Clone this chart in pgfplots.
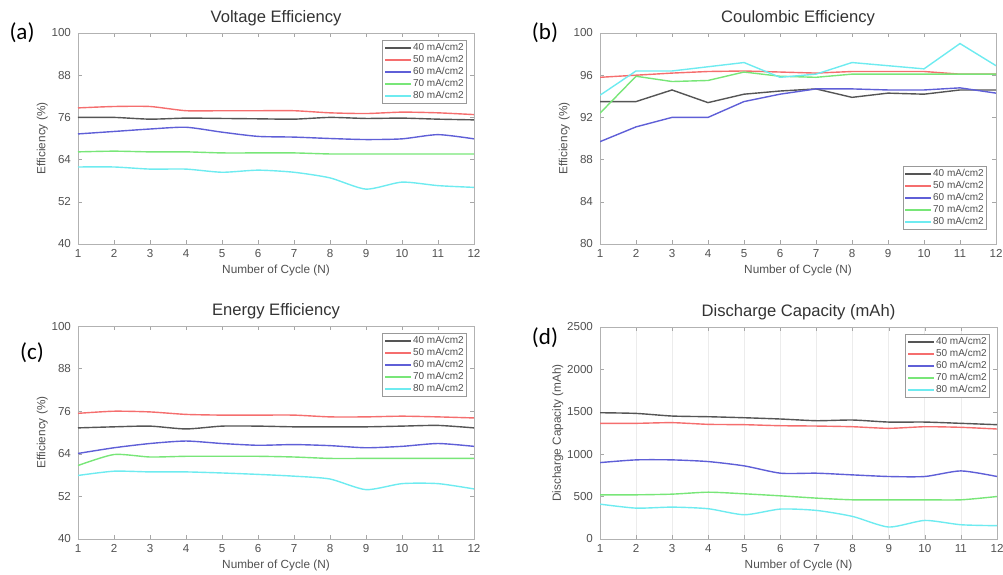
\documentclass[border=0pt]{standalone}
\usepackage{pgfplots}
\pgfplotsset{compat=1.18}
\usepackage{fontspec}
\setmainfont{Liberation Sans}
\newfontfamily\tagfont{Carlito}
\definecolor{cK}{RGB}{85,85,85}
\definecolor{cR}{RGB}{245,110,110}
\definecolor{cB}{RGB}{95,95,215}
\definecolor{cG}{RGB}{120,230,120}
\definecolor{cC}{RGB}{110,235,240}
\definecolor{txt}{RGB}{80,80,80}
\pgfplotsset{
  panel/.style={
    anchor=south west, scale only axis,
    width=198pt, height=105.5pt,
    xmin=1, xmax=12, xtick={1,...,12},
    axis line style={gray!60}, tick style={gray!70},
    tick align=inside, major tick length=2pt,
    xtick pos=both, ytick pos=both,
    /pgf/number format/assume math mode=true,
    ticklabel style={font=\fontsize{5.8}{6}\selectfont, text=txt},
    xticklabel style={yshift=1pt},
    label style={font=\fontsize{5.9}{6}\selectfont, text=txt},
    xlabel={Number of Cycle (N)},
    xlabel style={yshift=3pt},
    ylabel style={yshift=-5pt},
    every axis title shift=0pt,
    title style={font=\fontsize{8.3}{9}\selectfont, text=black!80},
    legend cell align=left,
    legend style={font=\fontsize{5}{6}\selectfont, text=txt, draw=gray!80,
      inner sep=0.8pt, row sep=0pt,
      nodes={inner sep=0.6pt, text height=3.8pt, text depth=1pt}},
    legend image code/.code={\draw[##1] plot coordinates {(0pt,0pt) (6.5pt,0pt) (13pt,0pt)};},
    every axis plot/.append style={line width=0.7pt},
  },
  legNE/.style={legend style={at={(0.982,0.967)}, anchor=north east}},
  legSE/.style={legend style={at={(0.977,0.066)}, anchor=south east}},
}
\begin{document}
\begin{tikzpicture}

% (a) Voltage efficiency
\begin{axis}[panel, legNE, at={(39pt,165pt)},
  ymin=40, ymax=100, ytick={40,52,...,100},
  title={Voltage Efficiency}, ylabel={Efficiency (\%)}]
\addplot[cK, smooth, tension=0.4] coordinates {(1,76)(2,76)(3,75.5)(4,75.8)(5,75.7)(6,75.6)(7,75.5)(8,76)(9,75.7)(10,75.8)(11,75.5)(12,75.3)};
\addplot[cR, smooth, tension=0.4] coordinates {(1,78.7)(2,79.1)(3,79.1)(4,77.9)(5,77.9)(6,77.9)(7,77.9)(8,77.3)(9,77.1)(10,77.5)(11,77.3)(12,76.8)};
\addplot[cB, smooth, tension=0.4] coordinates {(1,71.3)(2,72.0)(3,72.7)(4,73.2)(5,71.8)(6,70.6)(7,70.4)(8,70.0)(9,69.7)(10,69.9)(11,71.1)(12,69.9)};
\addplot[cG, smooth, tension=0.4] coordinates {(1,66.2)(2,66.4)(3,66.2)(4,66.2)(5,65.9)(6,65.9)(7,65.9)(8,65.6)(9,65.6)(10,65.6)(11,65.6)(12,65.6)};
\addplot[cC, smooth, tension=0.4] coordinates {(1,61.9)(2,61.9)(3,61.3)(4,61.3)(5,60.4)(6,61.0)(7,60.4)(8,58.8)(9,55.6)(10,57.6)(11,56.6)(12,56.1)};
\legend{40 mA/cm2, 50 mA/cm2, 60 mA/cm2, 70 mA/cm2, 80 mA/cm2}
\end{axis}

% (b) Coulombic efficiency
\begin{axis}[panel, legSE, at={(300pt,165pt)},
  ymin=80, ymax=100, ytick={80,84,...,100},
  title={Coulombic Efficiency}, ylabel={Efficiency (\%)}]
\addplot[cK] coordinates {(1,93.5)(2,93.5)(3,94.6)(4,93.4)(5,94.2)(6,94.5)(7,94.7)(8,93.9)(9,94.3)(10,94.2)(11,94.6)(12,94.6)};
\addplot[cR] coordinates {(1,95.8)(2,96.0)(3,96.2)(4,96.35)(5,96.4)(6,96.3)(7,96.2)(8,96.35)(9,96.35)(10,96.35)(11,96.1)(12,96.1)};
\addplot[cB] coordinates {(1,89.7)(2,91.1)(3,92.0)(4,92.0)(5,93.5)(6,94.2)(7,94.7)(8,94.7)(9,94.6)(10,94.6)(11,94.8)(12,94.3)};
\addplot[cG] coordinates {(1,92.4)(2,95.9)(3,95.4)(4,95.5)(5,96.3)(6,95.9)(7,95.8)(8,96.1)(9,96.1)(10,96.1)(11,96.1)(12,96.1)};
\addplot[cC] coordinates {(1,94.1)(2,96.4)(3,96.4)(4,96.8)(5,97.2)(6,95.8)(7,96.1)(8,97.2)(9,96.9)(10,96.6)(11,99.0)(12,96.9)};
\legend{40 mA/cm2, 50 mA/cm2, 60 mA/cm2, 70 mA/cm2, 80 mA/cm2}
\end{axis}

% (c) Energy efficiency
\begin{axis}[panel, legNE, at={(39pt,17.5pt)}, height=106.5pt,
  ymin=40, ymax=100, ytick={40,52,...,100},
  title={Energy Efficiency}, ylabel={Efficiency (\%)}]
\addplot[cK, smooth, tension=0.4] coordinates {(1,71.3)(2,71.6)(3,71.8)(4,71.0)(5,71.8)(6,71.8)(7,71.6)(8,71.6)(9,71.6)(10,71.8)(11,72.0)(12,71.3)};
\addplot[cR, smooth, tension=0.4] coordinates {(1,75.4)(2,76.0)(3,75.8)(4,75.1)(5,74.9)(6,74.9)(7,74.9)(8,74.4)(9,74.4)(10,74.6)(11,74.4)(12,74.1)};
\addplot[cB, smooth, tension=0.4] coordinates {(1,64.1)(2,65.7)(3,66.9)(4,67.6)(5,66.9)(6,66.4)(7,66.6)(8,66.3)(9,65.7)(10,66.1)(11,66.9)(12,66.1)};
\addplot[cG, smooth, tension=0.4] coordinates {(1,60.7)(2,63.8)(3,63.1)(4,63.3)(5,63.3)(6,63.3)(7,63.1)(8,62.7)(9,62.7)(10,62.7)(11,62.7)(12,62.7)};
\addplot[cC, smooth, tension=0.4] coordinates {(1,57.9)(2,59.1)(3,58.9)(4,58.9)(5,58.6)(6,58.2)(7,57.7)(8,56.9)(9,53.9)(10,55.6)(11,55.6)(12,54.1)};
\legend{40 mA/cm2, 50 mA/cm2, 60 mA/cm2, 70 mA/cm2, 80 mA/cm2}
\end{axis}

% (d) Discharge capacity
\begin{axis}[panel, legNE, at={(300pt,17.5pt)}, height=106pt, width=198.5pt,
  ymin=0, ymax=2500, ytick={0,500,...,2500},
  xmajorgrids, grid style={gray!15},
  /pgf/number format/1000 sep={},
  title={Discharge Capacity (mAh)}, ylabel={Discharge Capacity (mAh)}]
\addplot[cK, smooth, tension=0.4] coordinates {(1,1489)(2,1481)(3,1450)(4,1442)(5,1430)(6,1415)(7,1395)(8,1403)(9,1379)(10,1379)(11,1364)(12,1348)};
\addplot[cR, smooth, tension=0.4] coordinates {(1,1364)(2,1364)(3,1372)(4,1352)(5,1348)(6,1336)(7,1332)(8,1324)(9,1305)(10,1324)(11,1317)(12,1297)};
\addplot[cB, smooth, tension=0.4] coordinates {(1,901)(2,933)(3,933)(4,913)(5,862)(6,776)(7,776)(8,756)(9,737)(10,737)(11,803)(12,737)};
\addplot[cG, smooth, tension=0.4] coordinates {(1,521)(2,521)(3,529)(4,552)(5,533)(6,509)(7,482)(8,462)(9,462)(10,462)(11,462)(12,501)};
\addplot[cC, smooth, tension=0.4] coordinates {(1,411)(2,364)(3,376)(4,357)(5,286)(6,353)(7,337)(8,266)(9,141)(10,219)(11,168)(12,157)};
\legend{40 mA/cm2, 50 mA/cm2, 60 mA/cm2, 70 mA/cm2, 80 mA/cm2}
\end{axis}

\node[font=\tagfont\fontsize{11.5}{12}\selectfont, anchor=center] at (11pt,270.5pt) {(a)};
\node[font=\tagfont\fontsize{11.5}{12}\selectfont, anchor=center] at (272.5pt,270.5pt) {(b)};
\node[font=\tagfont\fontsize{11.5}{12}\selectfont, anchor=center] at (16pt,110.5pt) {(c)};
\node[font=\tagfont\fontsize{11.5}{12}\selectfont, anchor=center] at (272.5pt,118pt) {(d)};

\pgfresetboundingbox
\path[use as bounding box] (0pt,0pt) rectangle (501.5pt,287pt);
\end{tikzpicture}
\end{document}
